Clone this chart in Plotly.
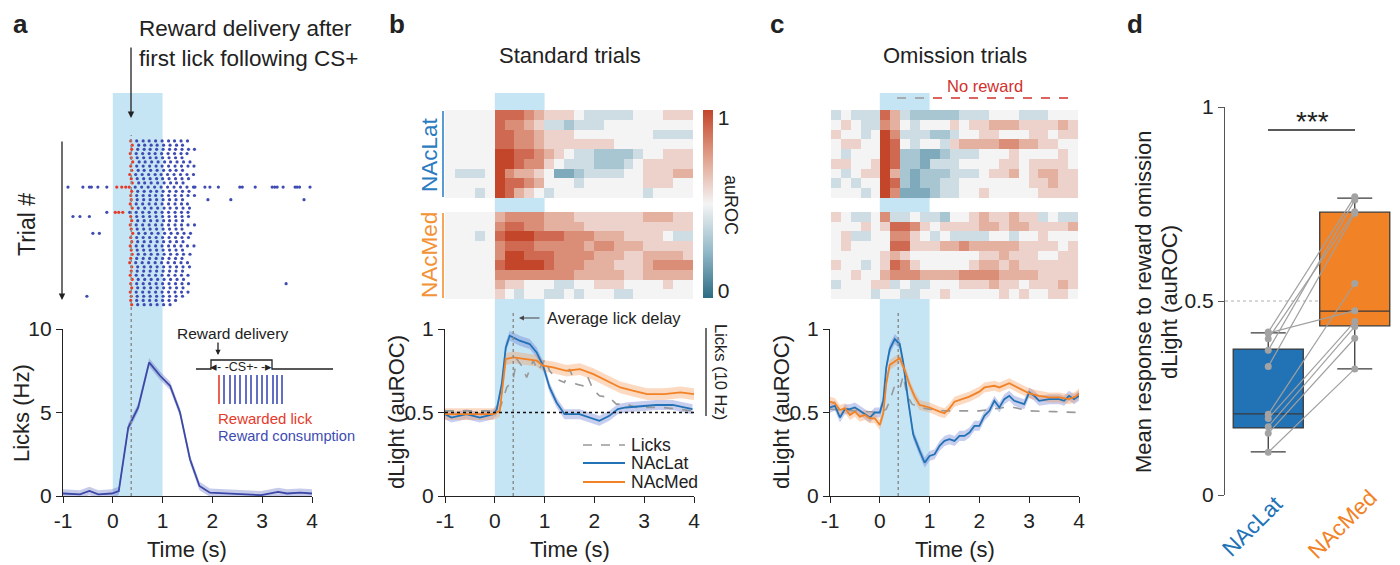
import plotly.graph_objects as go

# page body has an 8px margin: the figure is sized to fit the 1400x565 window exactly
OFF = 8
FW, FH = 1400 - OFF, 565 - OFF
def px(x): return (x - OFF) / FW
def py(y): return 1 - (y - OFF) / FH

FONT = "Arial, Liberation Sans, sans-serif"
DARK = "#222222"
TICK = 21

# ---------------- DATA ----------------
time_ticks = [-1, 0, 1, 2, 3, 4]
lick_delay = 0.37
cue_start, cue_end = 0, 1

# Panel a raster (lick times in 1/100 s), one list per trial
raster_rewarded = [[36],[39],[38],[35],[37],[40],[36],[38],[34],[37],[39],[8,18,26,33],[38],[36],[37],
                   [35],[39],[5,12,20],[36],[38],[35],[37],[40],[36],[38],[35],[37],[39],[36],[34],
                   [38],[37],[35],[39],[36],[38],[35],[37],[36],[38]]
raster_consumption = [
    [48,61,73,86,99,112,124,137,150],
    [52,64,77,89,102,115,128,140],
    [50,63,75,88,101,114,126,139,152,164],
    [47,60,73,85,98,111,124,137,149],
    [49,62,75,87,100,113,126,139],
    [53,65,78,91,104,116,129,142,155],
    [48,61,74,87,99,112,125,138,151,163],
    [51,63,76,89,102,115,127,140],
    [46,59,72,85,97,110,123,136,149,162],
    [49,62,75,88,100,113,126,139,152],
    [52,64,77,90,103,116,128,141],
    [-90,-60,-47,-43,-30,-12,45,58,71,84,97,110,123,136,149,162,165,185,195,212,255,260,286,320,325,330,342,366,370,375,396],
    [50,63,76,88,101,114,127,140,153],
    [48,61,74,86,99,112,125,138,151,164],
    [49,62,75,88,101,114,127,140,191,237,384],
    [47,60,73,86,99,112,125,138,150],
    [51,64,77,90,103,115,128,141,154],
    [-12,34,47,60,73,86,99,112,125,138,151],
    [-80,-66,-47,48,61,74,87,100,113,126,139,152],
    [50,63,76,89,102,114,127,140],
    [47,60,73,86,99,112,125,138,151,164],
    [49,62,75,88,101,114,127,139],
    [-40,-27,52,65,78,91,104,117,130,143,156],
    [48,61,74,87,100,113,126,139,152],
    [50,63,76,89,102,115,128,141],
    [47,60,73,86,99,112,124,137,150,163],
    [49,62,75,88,101,114,127,140],
    [51,64,77,90,103,116,129,142,155],
    [48,61,74,87,100,113,126,139],
    [46,59,72,85,98,111,124,137,150],
    [50,63,76,89,102,115,128,141,154],
    [49,62,75,88,101,114,127,140],
    [47,60,73,86,99,112,125,138,151],
    [51,64,77,90,103,116,129,142],
    [48,61,74,87,100,113,126,139,152,348],
    [50,63,76,89,102,115,128,141],
    [47,60,73,86,99,112,125,138,151],
    [-52,49,62,75,88,101,114,127,140],
    [48,61,74,87,100,113,126],
    [50,63,76,89,102,115],
]

# Panel a lick rate
t_a = [-1.0,-0.66,-0.47,-0.29,-0.02,0.12,0.31,0.51,0.73,0.95,1.15,1.35,1.55,1.74,1.95,2.3,2.6,2.98,3.32,3.5,3.76,4.0]
licks_a = [0.15,0.1,0.3,0.1,0.15,0.3,4.1,5.3,8.0,7.2,6.6,5.0,2.2,0.6,0.2,0.15,0.12,0.05,0.25,0.15,0.2,0.15]
licks_a_sem = 0.25

# Heatmaps: hex digit 0..A -> auROC 0..1
heat_t = [-0.9,-0.7,-0.5,-0.3,-0.1,0.1,0.3,0.5,0.7,0.9,1.1,1.3,1.5,1.7,1.9,2.1,2.3,2.5,2.7,2.9,3.1,3.3,3.5,3.7,3.9]
heat_rows = [1,2,3,4,5,6,7,8,9]
hm_std_lat = [
    "55555" "99987" "66654" "44445" "55666",
    "55555" "98876" "44344" "45555" "55555",
    "55555" "99887" "66655" "55555" "54444",
    "55555" "99887" "66666" "66555" "55555",
    "55555" "AA998" "76544" "33334" "55666",
    "55555" "AA988" "65444" "33345" "66666",
    "54445" "A8776" "52234" "44455" "66677",
    "55555" "A9987" "55545" "55555" "66655",
    "55545" "A9765" "45555" "55555" "45555",
]
hm_std_med = [
    "55555" "78888" "77766" "66666" "77766",
    "55555" "89988" "77776" "66666" "66666",
    "55545" "9AAA9" "99888" "77766" "66544",
    "55555" "89998" "88887" "88777" "66666",
    "55555" "8AA99" "98888" "77766" "77776",
    "55555" "9AAAA" "98887" "77666" "78888",
    "55555" "88888" "88877" "77766" "77777",
    "55555" "76655" "54455" "66655" "55655",
    "55555" "65455" "44545" "55445" "55555",
]
hm_om_lat = [
    "45444" "97433" "33344" "45554" "44555",
    "56544" "87545" "55656" "67776" "66676",
    "65545" "A8444" "33455" "66555" "66566",
    "56655" "A9545" "54677" "77887" "76655",
    "54555" "A9332" "23444" "55565" "55565",
    "66556" "A9332" "44455" "55665" "66665",
    "54566" "A7323" "33444" "56675" "67766",
    "45455" "A9323" "34455" "55555" "66766",
    "55545" "A8222" "34455" "65555" "56666",
]
hm_om_med = [
    "65445" "84454" "43556" "76676" "64544",
    "55565" "69986" "56666" "77677" "66667",
    "56445" "58865" "45444" "45545" "56555",
    "56555" "59966" "67787" "77776" "66656",
    "55555" "67655" "55555" "66766" "65566",
    "65545" "69865" "55556" "77676" "66666",
    "55655" "78887" "77788" "88777" "76666",
    "45556" "64544" "55566" "67665" "66676",
    "55554" "55445" "56555" "55656" "55665",
]

# Panel b (standard trials)
t_b_lat = [-1.0,-0.87,-0.57,-0.3,-0.03,0.04,0.14,0.22,0.3,0.5,0.7,0.84,0.97,1.1,1.24,1.4,1.7,1.9,2.1,2.3,2.47,2.63,3.04,3.24,3.57,3.97]
b_lat = [0.49,0.47,0.49,0.47,0.49,0.52,0.67,0.89,0.96,0.93,0.91,0.86,0.78,0.65,0.56,0.49,0.49,0.47,0.45,0.48,0.52,0.53,0.54,0.545,0.545,0.52]
b_lat_sem = 0.03
t_b_med = [-1.0,-0.03,0.1,0.17,0.22,0.37,0.64,0.84,0.97,1.17,1.44,1.71,1.98,2.25,2.52,2.79,3.06,3.4,3.73,4.0]
b_med = [0.49,0.49,0.51,0.71,0.82,0.83,0.82,0.81,0.78,0.77,0.75,0.76,0.73,0.69,0.65,0.63,0.61,0.61,0.62,0.61]
b_med_sem = 0.035
t_b_lick = [-1.0,-0.03,0.1,0.24,0.37,0.44,0.54,0.64,0.77,0.87,1.01,1.1,1.24,1.4,1.5,1.63,1.77,1.87,1.97,2.1,2.3,2.44,2.64,2.84,3.1,3.37,3.97]
b_lick = [0.51,0.51,0.52,0.65,0.70,0.82,0.78,0.71,0.81,0.75,0.82,0.75,0.70,0.68,0.76,0.67,0.66,0.71,0.64,0.60,0.59,0.55,0.55,0.53,0.53,0.53,0.51]

# Panel c (omission trials)
t_c_lat = [-1.0,-0.9,-0.8,-0.7,-0.6,-0.5,-0.4,-0.3,-0.2,-0.1,0.0,0.07,0.13,0.2,0.3,0.4,0.47,0.57,0.67,0.8,0.9,1.0,
           1.1,1.2,1.3,1.4,1.5,1.6,1.7,1.8,1.9,2.0,2.1,2.2,2.3,2.4,2.5,2.6,2.7,2.9,3.0,3.1,3.2,3.4,3.6,3.7,3.8,3.9,4.0]
c_lat = [0.53,0.54,0.47,0.52,0.52,0.53,0.51,0.49,0.47,0.50,0.50,0.57,0.77,0.88,0.94,0.91,0.80,0.57,0.37,0.27,0.20,0.24,
         0.25,0.30,0.33,0.34,0.33,0.36,0.36,0.38,0.42,0.42,0.48,0.51,0.57,0.53,0.58,0.60,0.57,0.55,0.62,0.60,0.57,0.58,0.58,0.57,0.60,0.58,0.60]
c_lat_sem = 0.03
t_c_med = [-1.0,-0.9,-0.8,-0.7,-0.6,-0.5,-0.4,-0.3,-0.2,-0.1,0.0,0.07,0.13,0.2,0.3,0.4,0.5,0.6,0.7,0.8,1.0,1.1,1.2,1.3,
           1.4,1.5,1.6,1.8,2.0,2.1,2.3,2.4,2.6,2.8,3.0,3.2,3.4,3.6,3.8,3.93,4.0]
c_med = [0.565,0.555,0.515,0.525,0.485,0.505,0.475,0.485,0.465,0.465,0.425,0.495,0.675,0.785,0.805,0.825,0.755,0.665,0.595,0.545,0.53,0.515,0.505,0.495,
         0.525,0.565,0.575,0.595,0.625,0.65,0.66,0.65,0.675,0.645,0.615,0.60,0.59,0.59,0.58,0.595,0.615]
c_med_sem = 0.03
t_c_lick = [-1.0,-0.5,0.0,0.13,0.2,0.3,0.4,0.47,0.55,0.65,0.8,1.0,1.3,2.0,2.3,2.5,2.7,3.0,3.5,4.0]
c_lick = [0.52,0.51,0.50,0.52,0.57,0.66,0.64,0.72,0.60,0.55,0.53,0.52,0.51,0.51,0.52,0.53,0.53,0.51,0.505,0.50]

# Panel d (paired omission responses)
groups = ["NAcLat", "NAcMed"]
pair_lat = [0.420,0.417,0.403,0.373,0.331,0.208,0.197,0.176,0.159,0.110]
pair_med = [0.769,0.475,0.730,0.760,0.726,0.545,0.447,0.434,0.404,0.325]
box_q1 = [0.173, 0.436]
box_median = [0.209, 0.474]
box_q3 = [0.376, 0.729]
box_low = [0.111, 0.325]
box_high = [0.418, 0.765]

# ---------------- STYLE ----------------
C_LAT = "#2272b6"
C_MED = "#f28226"
C_LAT_BAND = "rgba(95,115,205,0.35)"
C_MED_BAND = "rgba(246,150,80,0.35)"
C_LICK = "#3c48a6"
C_RED = "#e63a2a"
CUE = "#c6e5f4"
colorscale = [[0, "#2d6c84"], [0.25, "#94bac9"], [0.5, "#f4f4f4"], [0.75, "#e0a08b"], [1, "#c3452a"]]

fig = go.Figure()

def decode(rows):
    return [[int(c, 16) / 10 for c in r] for r in rows]

def band(t, y, sem, fill, xa, ya):
    lo = [v - sem for v in y]
    hi = [v + sem for v in y]
    fig.add_trace(go.Scatter(x=t, y=lo, mode="lines", line=dict(width=0), hoverinfo="skip",
                             xaxis=xa, yaxis=ya))
    fig.add_trace(go.Scatter(x=t, y=hi, mode="lines", line=dict(width=0), fill="tonexty",
                             fillcolor=fill, hoverinfo="skip", xaxis=xa, yaxis=ya))

# --- raster ---
rx, ry, bx, by = [], [], [], []
for i, (rr, cc) in enumerate(zip(raster_rewarded, raster_consumption)):
    for v in rr:
        rx.append(v / 100); ry.append(i + 1)
    for v in cc:
        bx.append(v / 100); by.append(i + 1)
fig.add_trace(go.Scatter(x=bx, y=by, mode="markers", marker=dict(size=3.2, color="#3d4bb3"),
                         xaxis="x", yaxis="y"))
fig.add_trace(go.Scatter(x=rx, y=ry, mode="markers", marker=dict(size=3.2, color=C_RED),
                         xaxis="x", yaxis="y"))

# --- lick rate ---
band(t_a, licks_a, licks_a_sem, "rgba(95,105,195,0.35)", "x2", "y2")
fig.add_trace(go.Scatter(x=t_a, y=licks_a, mode="lines", line=dict(color=C_LICK, width=1.8),
                         xaxis="x2", yaxis="y2"))

# --- heatmaps ---
hm_common = dict(zmin=0, zmax=1, colorscale=colorscale, x=heat_t, y=heat_rows, hoverinfo="skip")
fig.add_trace(go.Heatmap(z=decode(hm_std_lat), xaxis="x3", yaxis="y3", showscale=True,
                         colorbar=dict(x=px(703), xanchor="left", y=py(204), yanchor="middle",
                                       len=188, lenmode="pixels", thickness=10, thicknessmode="pixels",
                                       outlinewidth=0, tickvals=[0.04, 0.96], ticktext=["0", "1"],
                                       ticks="", tickfont=dict(size=TICK, color=DARK, family=FONT),
                                       xpad=0, ypad=0), **hm_common))
fig.add_trace(go.Heatmap(z=decode(hm_std_med), xaxis="x4", yaxis="y4", showscale=False, **hm_common))
fig.add_trace(go.Heatmap(z=decode(hm_om_lat), xaxis="x6", yaxis="y6", showscale=False, **hm_common))
fig.add_trace(go.Heatmap(z=decode(hm_om_med), xaxis="x7", yaxis="y7", showscale=False, **hm_common))

# --- panel b lines ---
band(t_b_lat, b_lat, b_lat_sem, C_LAT_BAND, "x5", "y5")
band(t_b_med, b_med, b_med_sem, C_MED_BAND, "x5", "y5")
fig.add_trace(go.Scatter(x=t_b_lick, y=b_lick, mode="lines", line=dict(color="#999999", width=1.6, dash="dash"),
                         xaxis="x5", yaxis="y5"))
fig.add_trace(go.Scatter(x=t_b_lat, y=b_lat, mode="lines", line=dict(color=C_LAT, width=1.8), xaxis="x5", yaxis="y5"))
fig.add_trace(go.Scatter(x=t_b_med, y=b_med, mode="lines", line=dict(color=C_MED, width=1.8), xaxis="x5", yaxis="y5"))

# --- panel c lines ---
band(t_c_lat, c_lat, c_lat_sem, C_LAT_BAND, "x8", "y8")
band(t_c_med, c_med, c_med_sem, C_MED_BAND, "x8", "y8")
fig.add_trace(go.Scatter(x=t_c_lick, y=c_lick, mode="lines", line=dict(color="#999999", width=1.6, dash="dash"),
                         xaxis="x8", yaxis="y8"))
fig.add_trace(go.Scatter(x=t_c_lat, y=c_lat, mode="lines", line=dict(color=C_LAT, width=1.8), xaxis="x8", yaxis="y8"))
fig.add_trace(go.Scatter(x=t_c_med, y=c_med, mode="lines", line=dict(color=C_MED, width=1.8), xaxis="x8", yaxis="y8"))

# --- panel d boxes ---
for i, col in enumerate([C_LAT, C_MED]):
    fig.add_trace(go.Box(x=[i], q1=[box_q1[i]], median=[box_median[i]], q3=[box_q3[i]],
                         lowerfence=[box_low[i]], upperfence=[box_high[i]], width=0.81, whiskerwidth=0.5,
                         fillcolor=col, line=dict(color="#3a3a3a", width=1.3), boxpoints=False,
                         hoverinfo="skip", xaxis="x9", yaxis="y9"))
lx, ly = [], []
for a, b in zip(pair_lat, pair_med):
    lx += [0, 1, None]; ly += [a, b, None]
fig.add_trace(go.Scatter(x=lx, y=ly, mode="lines+markers", line=dict(color="#a0a0a0", width=1.2),
                         marker=dict(color="#a3a3a3", size=7), xaxis="x9", yaxis="y9"))

# ---------------- AXES ----------------
def hidden(domain, rng, anchor):
    return dict(domain=domain, range=rng, visible=False, showgrid=False, zeroline=False, anchor=anchor,
                fixedrange=True, automargin=False)

def time_x(x0, x1, anchor):
    return dict(domain=[px(x0), px(x1)], range=[-1, 4], tickvals=time_ticks, ticktext=[str(v) for v in time_ticks],
                ticks="outside", ticklen=6, tickwidth=1.3, tickcolor=DARK, showline=True, linecolor=DARK,
                linewidth=1.3, showgrid=False, zeroline=False, anchor=anchor, automargin=False,
                tickfont=dict(size=TICK, color=DARK, family=FONT))

def val_y(y0, y1, rng, tv, tt, anchor, color=DARK):
    return dict(domain=[py(y1), py(y0)], range=rng, tickvals=tv, ticktext=tt, ticks="outside", ticklen=6,
                tickwidth=1.3, tickcolor=color, showline=True, linecolor=color, linewidth=1.3, showgrid=False,
                zeroline=False, anchor=anchor, automargin=False, tickfont=dict(size=TICK, color=DARK, family=FONT))

heat_y_lat = [py(198), py(110)]
heat_y_med = [py(299), py(212)]

layout_axes = dict(
    xaxis=hidden([px(63), px(312)], [-1, 4], "y"),
    yaxis=hidden([py(308), py(138)], [40.8, 0.3], "x"),
    xaxis2=time_x(63, 312, "y2"),
    yaxis2=val_y(329, 496, [0, 10], [0, 5, 10], ["0", "5", "10"], "x2"),
    xaxis3=hidden([px(445), px(693)], [-1, 4], "y3"),
    yaxis3=hidden(heat_y_lat, [9.5, 0.5], "x3"),
    xaxis4=hidden([px(445), px(693)], [-1, 4], "y4"),
    yaxis4=hidden(heat_y_med, [9.5, 0.5], "x4"),
    xaxis5=time_x(445, 694, "y5"),
    yaxis5=val_y(329, 496, [0, 1], [0, 0.5, 1], ["0", "0.5", "1"], "x5"),
    xaxis6=hidden([px(831), px(1078)], [-1, 4], "y6"),
    yaxis6=hidden(heat_y_lat, [9.5, 0.5], "x6"),
    xaxis7=hidden([px(831), px(1078)], [-1, 4], "y7"),
    yaxis7=hidden(heat_y_med, [9.5, 0.5], "x7"),
    xaxis8=time_x(830, 1079, "y8"),
    yaxis8=val_y(329, 496, [0, 1], [0, 0.5, 1], ["0", "0.5", "1"], "x8"),
    xaxis9=hidden([px(1225), px(1398)], [-0.5, 1.5], "y9"),
    yaxis9=val_y(107, 495, [0, 1], [0, 0.5, 1], ["0", "0.5", "1"], "x9", color="#555555"),
)

# ---------------- SHAPES ----------------
shapes = []
for xr in ["x2", "x5", "x8"]:
    shapes.append(dict(type="rect", xref=xr, yref="paper", x0=cue_start, x1=cue_end, y0=py(496), y1=py(93),
                       fillcolor=CUE, line=dict(width=0), layer="below"))
for xr, top in [("x2", 135), ("x5", 313), ("x8", 313)]:
    shapes.append(dict(type="line", xref=xr, yref="paper", x0=lick_delay, x1=lick_delay, y0=py(496), y1=py(top),
                       line=dict(color="#8a8a8a", width=1.4, dash="dot")))
shapes.append(dict(type="line", xref="x5", yref="y5", x0=-1, x1=4, y0=0.5, y1=0.5,
                   line=dict(color="#111111", width=1.4, dash="dot")))
shapes.append(dict(type="line", xref="x9", yref="y9", x0=-0.5, x1=1.5, y0=0.5, y1=0.5,
                   line=dict(color="#b0b0b0", width=1.2, dash="dot"), layer="below"))

def pline(x0, y0, x1, y1, color, width=1.4, dash=None):
    d = dict(color=color, width=width)
    if dash:
        d["dash"] = dash
    shapes.append(dict(type="line", xref="paper", yref="paper", x0=px(x0), y0=py(y0), x1=px(x1), y1=py(y1), line=d))

# inset schematic in panel a
step = [(196, 369), (211, 369), (211, 360), (272, 360), (272, 369), (333, 369)]
path = "M " + " L ".join(f"{px(a):.5f},{py(b):.5f}" for a, b in step)
shapes.append(dict(type="path", xref="paper", yref="paper", path=path, line=dict(color="#222", width=1.3)))
pline(219, 375, 219, 404, C_RED, 1.6)
for xx in [224, 230, 235, 240, 246, 251, 257, 262, 267, 273, 277, 282]:
    pline(xx, 375, xx, 404, "#3d4bb3", 1.6)

# labels bars in panel b
pline(443, 111, 443, 197, "#5b9bd5", 2)
pline(443, 213, 443, 298, "#f7a55a", 2)
# lick scale bar
pline(706, 328, 706, 416, "#222", 1.3)
# legend panel b
pline(583, 445, 625, 445, "#999999", 1.6, "dash")
pline(583, 463, 625, 463, C_LAT, 1.8)
pline(583, 482, 625, 482, C_MED, 1.8)
# no reward line panel c
pline(897, 98, 930, 98, "#999999", 1.3, "dash")
pline(933, 98, 1077, 98, "#d0312d", 1.3, "dash")
# significance bar panel d
pline(1268, 130, 1355, 130, "#222", 1.4)

# ---------------- ANNOTATIONS ----------------
ann = []
def text(x, y, s, size=19, color=DARK, xanchor="center", yanchor="middle", angle=0, bold=False):
    ann.append(dict(x=px(x), y=py(y), xref="paper", yref="paper", text=f"<b>{s}</b>" if bold else s,
                    showarrow=False, xanchor=xanchor, yanchor=yanchor, textangle=angle,
                    font=dict(size=size, color=color, family=FONT)))

def arrow(x, y, ax, ay, color="#222", size=1.0, width=1.3):
    ann.append(dict(x=px(x), y=py(y), xref="paper", yref="paper", text="", showarrow=True, ax=ax, ay=ay,
                    arrowhead=2, arrowsize=size, arrowwidth=width, arrowcolor=color))

for s, x in [("a", 20), ("b", 397), ("c", 777), ("d", 1135)]:
    text(x, 24, s, size=26, bold=True)

# panel a
text(137, 28, "Reward delivery after", 22.5, xanchor="left")
text(137, 58, "first lick following CS+", 22.5, xanchor="left")
arrow(131, 118, 0, -72)
arrow(62, 300, 0, -160)
text(27, 225, "Trial #", 23, angle=-90)
text(21, 413, "Licks (Hz)", 22, angle=-90)
text(187, 549, "Time (s)", 22)
text(232, 333, "Reward delivery", 15.5)
arrow(218, 355, 0, -14, size=0.8)
text(241, 367, "◂- -CS+- -▸", 12.5)
text(216, 418, "Rewarded lick", 15, C_RED, xanchor="left")
text(216, 436, "Reward consumption", 14.6, "#3d4bb3", xanchor="left")

# panel b
text(570, 55, "Standard trials", 22)
text(430, 155, "NAcLat", 22.5, "#2b7bc0", angle=-90)
text(430, 255, "NAcMed", 22.5, "#f39236", angle=-90)
text(731, 205, "auROC", 18, angle=90)
text(545, 318, "Average lick delay", 16.5, xanchor="left")
arrow(519, 318, 22, 0, color="#444", size=0.9, width=1.1)
text(721, 372, "Licks (10 Hz)", 16.5, angle=90)
text(396, 412, "dLight (auROC)", 22, angle=-90)
text(629, 445, "Licks", 17.5, xanchor="left")
text(629, 463, "NAcLat", 17.5, xanchor="left")
text(629, 482, "NAcMed", 17.5, xanchor="left")
text(570, 549, "Time (s)", 22)

# panel c
text(955, 55, "Omission trials", 22)
text(985, 86, "No reward", 16.5, "#d0312d")
text(781, 412, "dLight (auROC)", 22, angle=-90)
text(955, 549, "Time (s)", 22)

# panel d
text(1143, 302, "Mean response to reward omission", 22, angle=-90)
text(1169, 302, "dLight (auROC)", 22, angle=-90)
text(1312, 121, "***", 28)
text(1252, 526, groups[0], 22.5, C_LAT, angle=-45)
text(1342, 524, groups[1], 22.5, C_MED, angle=-45)

fig.update_layout(
    width=FW, height=FH, margin=dict(l=0, r=0, t=0, b=0, pad=0, autoexpand=False),
    paper_bgcolor="white", plot_bgcolor="rgba(0,0,0,0)",
    showlegend=False, font=dict(family=FONT, color=DARK),
    shapes=shapes, annotations=ann, **layout_axes,
)

fig.write_html("out.html")
